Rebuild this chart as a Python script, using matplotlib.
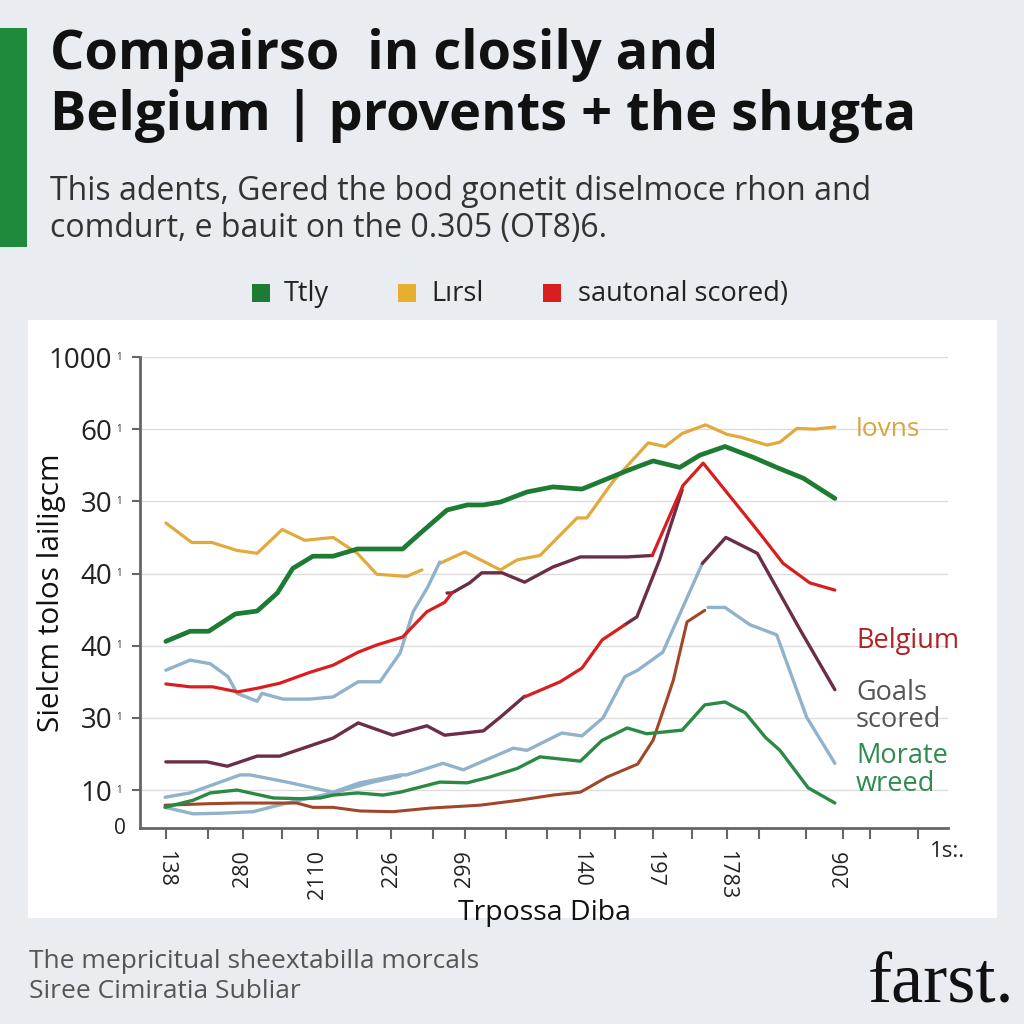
import numpy as np
import matplotlib.pyplot as plt
from matplotlib.patches import Rectangle

nan = np.nan

# ---- data (x in chart units 0-100, y in chart units) ----
orange_x = [3.2, 6.4, 8.9, 12.0, 14.5, 17.6, 20.4, 23.9, 26.9, 29.3, 33.0, 34.9, nan,
            37.1, 40.2, 44.6, 46.7, 49.5, 54.1, 55.3, 58.5, 62.9, 65.0, 67.1, 70.0, 72.6,
            74.3, 77.6, 79.2, 81.3, 83.5, 86.0]
orange_y = [47.0, 44.3, 44.3, 43.2, 42.8, 46.1, 44.6, 45.0, 42.8, 39.9, 39.6, 40.5, nan,
            41.4, 43.0, 40.5, 41.9, 42.5, 47.7, 47.7, 52.7, 58.1, 57.6, 59.4, 60.6, 59.3,
            58.9, 57.8, 58.2, 60.1, 60.0, 60.3]

green_x = [3.2, 6.2, 8.5, 11.8, 14.5, 17.0, 18.9, 21.4, 23.9, 26.9, 32.5, 34.7, 38.0,
           40.5, 42.5, 44.6, 47.9, 51.1, 54.7, 56.9, 60.4, 63.5, 66.8, 69.3, 72.4, 75.9,
           78.8, 82.1, 86.0]
green_y = [30.6, 32.0, 32.0, 34.4, 34.8, 37.3, 40.7, 42.4, 42.4, 43.4, 43.4, 45.6, 48.8,
           49.5, 49.5, 49.9, 51.3, 52.0, 51.7, 52.7, 54.3, 55.6, 54.7, 56.4, 57.6, 56.1,
           54.7, 53.2, 50.4]

red_x = [3.2, 6.2, 9.0, 12.1, 14.5, 17.3, 21.0, 23.9, 27.0, 29.3, 32.5, 35.5, 37.7, 38.6, nan,
         47.6, 52.0, 54.7, 57.2, 60.0, nan,
         63.4, 67.2, 69.7, 76.4, 79.6, 82.9, 86.0]
red_y = [24.7, 24.3, 24.3, 23.6, 24.1, 24.8, 26.3, 27.3, 29.1, 30.1, 31.2, 34.7, 36.0, 37.3, nan,
         22.9, 25.0, 26.9, 30.8, 32.9, nan,
         42.5, 52.2, 55.3, 46.0, 41.4, 38.7, 37.7]

purple_x = [3.2, 8.3, 10.8, 14.5, 17.3, 23.9, 27.0, 31.3, 35.5, 37.7, 42.5, 44.6, 47.6, nan,
            60.0, 61.5, 64.3, 67.1, nan,
            38.0, 38.6, 40.8, 42.3, 44.8, 47.6, 51.1, 54.5, 60.3, 63.4, nan,
            69.6, 72.5, 76.4, 81.7, 86.0]
purple_y = [13.9, 13.9, 13.3, 14.7, 14.7, 17.2, 19.3, 17.6, 18.9, 17.6, 18.2, 20.1, 23.0, nan,
            32.9, 34.0, 41.9, 51.6, nan,
            37.3, 37.3, 38.7, 40.1, 40.1, 38.8, 40.9, 42.3, 42.3, 42.5, nan,
            41.4, 45.0, 42.8, 32.2, 23.9]

blue_x = [3.2, 6.2, 8.7, 10.9, 12.0, 14.5, 15.1, 17.7, 21.0, 23.9, 27.0, 29.7, 32.2, 33.8, 35.6, 37.1, nan,
          3.1, 6.2, 12.4, 13.6, 18.2, 23.9, 27.2, 32.2, 33.0, 37.5, 40.0, 46.2, 47.9, 52.2, 54.7,
          57.3, 60.0, 61.6, 64.7, 69.6, nan,
          3.1, 6.6, 10.3, 14.0, 18.2, 23.9, 28.8, 32.2, nan,
          70.3, 72.4, 75.5, 78.8, 82.5, 86.0]
blue_y = [26.6, 28.0, 27.5, 25.7, 23.4, 22.3, 23.4, 22.6, 22.6, 22.9, 25.0, 25.0, 29.0, 34.7, 38.1, 41.6, nan,
          9.0, 9.6, 12.1, 12.1, 11.1, 9.7, 11.0, 12.1, 12.1, 13.7, 12.8, 15.8, 15.5, 17.9, 17.5,
          20.0, 25.7, 26.6, 29.1, 41.4, nan,
          7.6, 6.7, 6.8, 7.0, 8.2, 9.6, 11.1, 11.9, nan,
          35.3, 35.3, 32.9, 31.5, 20.1, 13.7]

brown_x = [3.1, 8.3, 12.4, 16.5, 19.4, 21.4, 23.9, 27.2, 31.3, 35.9, 42.1, 47.0, 51.1, 54.5,
           57.8, 61.6, 63.5, 65.2, 66.0, 67.7, 69.9]
brown_y = [7.9, 8.1, 8.2, 8.2, 8.2, 7.6, 7.6, 7.1, 7.0, 7.5, 7.9, 8.6, 9.3, 9.7,
           11.8, 13.6, 16.9, 22.5, 25.2, 33.3, 34.9]

lgreen_x = [3.1, 6.6, 8.7, 12.0, 16.5, 19.8, 22.3, 23.9, 26.9, 30.1, 32.2, 37.1, 40.5, 43.3,
            46.7, 49.5, 54.5, 57.2, 60.3, 62.7, 67.1, 69.9, 72.4, 74.9, 77.4, 79.2, 82.7, 86.0]
lgreen_y = [7.6, 8.6, 9.6, 10.0, 8.9, 8.8, 8.9, 9.3, 9.6, 9.3, 9.7, 11.1, 11.0, 11.8,
            13.0, 14.6, 14.0, 16.9, 18.6, 17.8, 18.3, 21.8, 22.2, 20.7, 17.3, 15.5, 10.3, 8.2]

ytick_pos = [10, 20, 30, 40, 50, 60, 70]
ytick_lab = ['10', '30', '40', '40', '30', '60', '1000']
xtick_pos = [3.2, 12.7, 22.0, 31.1, 40.2, 54.5, 63.5, 72.6, 87.0]
xtick_lab = ['138', '280', '2110', '226', '299', '140', '197', '1783', '206']
xtick_rot = [270, 90, 90, 90, 90, 270, 270, 270, 90]
xminor = [8.4, 17.6, 26.9, 36.3, 45.3, 50.4, 58.8, 68.3, 76.6, 82.4, 90.3, 96.3]

legend_names = ['Ttly', 'Lırsl', 'sautonal scored)']

BG = '#E9ECF0'
ORANGE = '#E2A93B'
GREEN = '#1E7B34'
RED = '#D81E1E'
PURPLE = '#6B2D48'
BLUE = '#90B2CA'
BROWN = '#A0472A'
LGREEN = '#2A8A44'

plt.rcParams['font.family'] = ['Open Sans', 'DejaVu Sans']

fig = plt.figure(figsize=(10.24, 10.24), dpi=100, facecolor=BG)
W = H = 1024.0


def fx(px):
    return px / W


def fy(py):
    return 1 - py / H


# white panel and green accent bar
fig.patches.append(Rectangle((fx(28), fy(918)), fx(997) - fx(28), fy(320) - fy(918),
                             transform=fig.transFigure, facecolor='white', edgecolor='none', zorder=-10))
fig.patches.append(Rectangle((0, fy(247)), fx(27), fy(28) - fy(247),
                             transform=fig.transFigure, facecolor='#1F8A3E', edgecolor='none', zorder=-10))

# title and subtitle
fig.text(fx(50), fy(55), 'Compairso  in closily and', fontsize=39, fontweight='bold',
         color='#111111', va='center', ha='left')
fig.text(fx(50), fy(116), 'Belgium | provents + the shugta', fontsize=39, fontweight='bold',
         color='#111111', va='center', ha='left')
fig.text(fx(50), fy(191), 'This adents, Gered the bod gonetit diselmoce rhon and', fontsize=23,
         color='#333333', va='center', ha='left')
fig.text(fx(50), fy(229), 'comdurt, e bauit on the 0.305 (OT8)6.', fontsize=23,
         color='#333333', va='center', ha='left')

# legend row
for sx, tx, col, name in zip([252, 398, 543], [284, 431, 578], [GREEN, '#E8AE2E', RED], legend_names):
    fig.patches.append(Rectangle((fx(sx), fy(302)), fx(18), fx(18), transform=fig.transFigure,
                                 facecolor=col, edgecolor='none'))
    fig.text(fx(tx), fy(294), name, fontsize=19.5, color='#222222', va='center', ha='left')

# main axes
ax = fig.add_axes([fx(140), fy(828), fx(948) - fx(140), fy(357) - fy(828)])
ax.set_facecolor('white')

ax.plot(orange_x, orange_y, color=ORANGE, lw=2.3, solid_capstyle='round', zorder=3)
ax.plot(green_x, green_y, color=GREEN, lw=3.4, solid_capstyle='round', zorder=4)
ax.plot(blue_x, blue_y, color=BLUE, lw=2.4, solid_capstyle='round', zorder=3)
ax.plot(brown_x, brown_y, color=BROWN, lw=2.2, solid_capstyle='round', zorder=3)
ax.plot(lgreen_x, lgreen_y, color=LGREEN, lw=2.4, solid_capstyle='round', zorder=3)
ax.plot(purple_x, purple_y, color=PURPLE, lw=2.4, solid_capstyle='round', zorder=4)
ax.plot(red_x, red_y, color=RED, lw=2.3, solid_capstyle='round', zorder=5)

ax.set_xlim(0, 100)
ax.set_ylim(4.74, 70)
ax.grid(axis='y', color='#DCDCDC', lw=1.0)
ax.set_axisbelow(True)
for s in ['top', 'right']:
    ax.spines[s].set_visible(False)
for s in ['left', 'bottom']:
    ax.spines[s].set_color('#666666')
    ax.spines[s].set_linewidth(2)

ax.set_yticks(ytick_pos)
ax.set_yticklabels(ytick_lab, fontsize=20, color='#222222')
ax.tick_params(axis='y', length=6, width=1.5, color='#666666', pad=14)
ax.set_xticks(xtick_pos)
ax.set_xticklabels(xtick_lab, fontsize=15.5, color='#222222')
for lab, r in zip(ax.get_xticklabels(), xtick_rot):
    lab.set_rotation(r)
    lab.set_va('top')
ax.set_xticks(xminor, minor=True)
ax.tick_params(axis='x', which='both', length=8, width=1.5, color='#666666', pad=8)

ytr = ax.get_yaxis_transform()
for yv in ytick_pos:
    ax.text(-0.026, yv, '1', fontsize=7, color='#333333', transform=ytr, va='center', ha='center')
ax.text(-0.025, 4.74, '0', fontsize=15, color='#222222', transform=ytr, va='center', ha='center')
ax.text(1.0, -0.05, '1s:.', fontsize=16, color='#222222', transform=ax.transAxes, va='center', ha='center')

ax.set_ylabel('Sielcm tolos lailigcm', fontsize=21.5, color='#111111')
ax.yaxis.set_label_coords(-0.092, 0.5)
ax.set_xlabel('Trpossa Diba', fontsize=20.5, color='#111111', labelpad=0)

# right-hand series labels
ax.text(88.6, 60.0, 'lovns', fontsize=19, color='#D9A441', va='center', ha='left')
ax.text(88.6, 30.6, 'Belgium', fontsize=19.5, color='#B22222', va='center', ha='left')
ax.text(88.6, 21.6, 'Goals\nscored', fontsize=19.5, color='#555555', va='center', ha='left',
        linespacing=0.98)
ax.text(88.6, 12.8, 'Morate\nwreed', fontsize=19.5, color='#2E8B4E', va='center', ha='left',
        linespacing=0.98)

# footer
fig.text(fx(29), fy(962), 'The mepricitual sheextabilla morcals', fontsize=19, color='#555555',
         va='center', ha='left')
fig.text(fx(29), fy(992), 'Siree Cimiratia Subliar', fontsize=19, color='#555555',
         va='center', ha='left')
fig.text(fx(1014), fy(985), 'farst.', fontsize=52, color='#111111', family='Liberation Serif',
         va='center', ha='right')

fig.savefig('out.png', dpi=100, facecolor=BG)
